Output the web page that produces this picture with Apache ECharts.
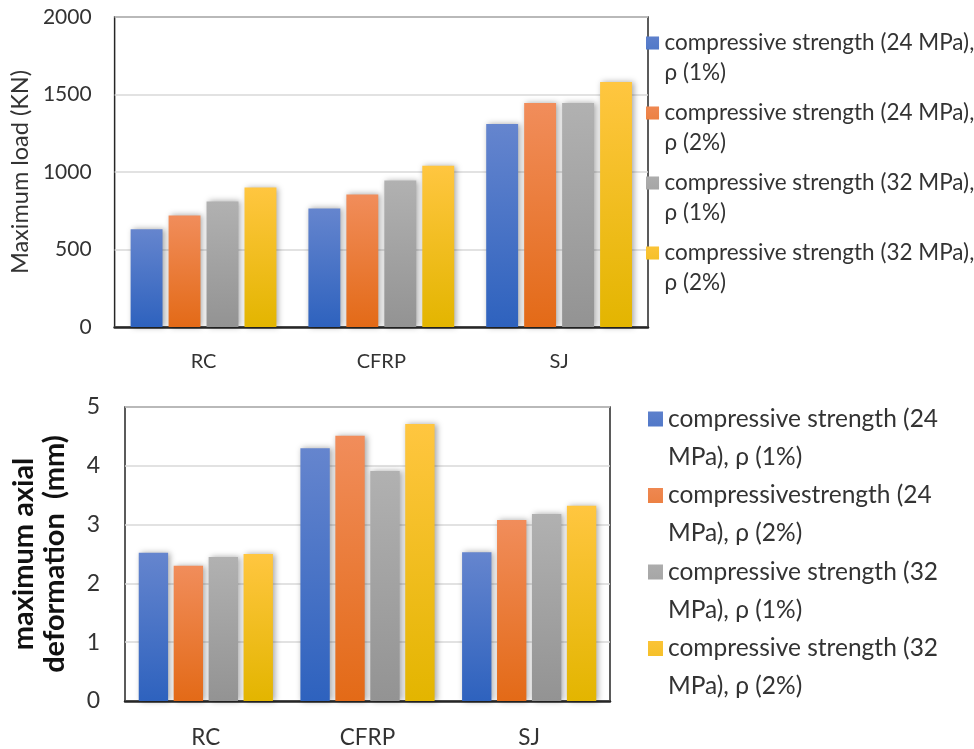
<!DOCTYPE html>
<html>
<head>
<meta charset="utf-8">
<script src="https://cdn.jsdelivr.net/npm/echarts@6/dist/echarts.min.js"></script>
<style>
  html, body { margin: 0; padding: 0; background: #fff; }
  #chart { width: 974px; height: 749px; }
</style>
</head>
<body>
<div id="chart"></div>
<script>
// Specimen groups on the category axis
const categories = ['RC', 'CFRP', 'SJ'];

// Maximum load (kN) per mix
const load24p1 = [630, 765, 1310];
const load24p2 = [720, 855, 1445];
const load32p1 = [810, 945, 1445];
const load32p2 = [900, 1040, 1580];

// Maximum axial deformation (mm) per mix
const def24p1 = [2.52, 4.30, 2.53];
const def24p2 = [2.30, 4.51, 3.08];
const def32p1 = [2.45, 3.91, 3.18];
const def32p2 = [2.50, 4.71, 3.32];

// Legend labels
const loadNames = [
  'compressive strength (24 MPa),\nρ (1%)',
  'compressive strength (24 MPa),\nρ (2%)',
  'compressive strength (32 MPa),\nρ (1%)',
  'compressive strength (32 MPa),\nρ (2%)'
];
const defNames = [
  'compressive strength (24\nMPa), ρ (1%)',
  'compressivestrength (24\nMPa), ρ (2%)',
  'compressive strength (32\nMPa), ρ (1%)',
  'compressive strength (32\nMPa), ρ (2%)'
];

// Axis ticks
const loadTicks = { min: 0, max: 2000, interval: 500 };
const defTicks = { min: 0, max: 5, interval: 1 };

const FONT = 'Lato';

function grad(top, bottom) {
  return new echarts.graphic.LinearGradient(0, 0, 0, 1, [
    { offset: 0, color: top },
    { offset: 1, color: bottom }
  ]);
}
const palette = [
  ['#6585CE', '#2E62BE'],
  ['#F18D5B', '#E36A17'],
  ['#B1B1B1', '#939393'],
  ['#FFC640', '#E3B500']
];

// swatch square placed beside the first line of a two-line legend label
const topIcon = 'path://M0,0 M0,6.5H10V16.5H0Z M10,46';
const botIcon = 'path://M0,0 M0,7.7H10V17.7H0Z M10,50.7';

function barSeries(name, data, idx, axisIdx) {
  return {
    type: 'bar',
    name: name,
    data: data,
    xAxisIndex: axisIdx,
    yAxisIndex: axisIdx,
    barGap: '19%',
    barCategoryGap: axisIdx === 0 ? '18%' : '17%',
    itemStyle: {
      color: grad(palette[idx][0], palette[idx][1]),
      shadowBlur: 6,
      shadowColor: 'rgba(0,0,0,0.35)',
      shadowOffsetX: 2
    }
  };
}

const chart = echarts.init(document.getElementById('chart'), null, { renderer: 'canvas' });

chart.setOption({
  animation: false,
  textStyle: { fontFamily: FONT },
  grid: [
    { left: 113, top: 17, width: 535, height: 310, show: true, borderColor: '#262626', borderWidth: 1.5, backgroundColor: 'transparent' },
    { left: 122, top: 407, width: 488, height: 294, show: true, borderColor: '#262626', borderWidth: 1.5, backgroundColor: 'transparent' }
  ],
  legend: [
    {
      data: loadNames,
      orient: 'vertical',
      left: 641,
      top: 23,
      itemWidth: 14,
      itemHeight: 60,
      itemGap: 10,
      icon: topIcon,
      textStyle: { fontFamily: FONT, fontSize: 22.5, color: '#333', lineHeight: 30 }
    },
    {
      data: defNames,
      orient: 'vertical',
      left: 643,
      top: 395,
      itemWidth: 15,
      itemHeight: 76,
      itemGap: 0.5,
      icon: botIcon,
      textStyle: { fontFamily: FONT, fontSize: 24.5, color: '#333', lineHeight: 38 }
    }
  ],
  xAxis: [
    {
      type: 'category', gridIndex: 0, data: categories,
      axisLine: { lineStyle: { color: '#262626', width: 2.5 } },
      axisTick: { show: false },
      axisLabel: { color: '#333', fontSize: 20, margin: 25, fontFamily: FONT }
    },
    {
      type: 'category', gridIndex: 1, data: categories,
      axisLine: { lineStyle: { color: '#262626', width: 2.5 } },
      axisTick: { show: false },
      axisLabel: { color: '#333', fontSize: 22.5, margin: 25, fontFamily: FONT }
    }
  ],
  yAxis: [
    {
      type: 'value', gridIndex: 0,
      min: loadTicks.min, max: loadTicks.max, interval: loadTicks.interval,
      name: 'Maximum load (KN)', nameLocation: 'middle', nameGap: 77,
      nameTextStyle: { fontSize: 23.5, color: '#333', fontFamily: FONT },
      axisLine: { show: false }, axisTick: { show: false },
      axisLabel: { color: '#333', fontSize: 21, margin: 23, fontFamily: FONT, formatter: v => String(v) },
      splitLine: { lineStyle: { color: '#D9D9D9', width: 1.5 } }
    },
    {
      type: 'value', gridIndex: 1,
      min: defTicks.min, max: defTicks.max, interval: defTicks.interval,
      name: 'maximum axial\ndeformation  (mm)', nameLocation: 'middle', nameGap: 55,
      nameTextStyle: { fontSize: 29, color: '#111', fontWeight: 'bold', lineHeight: 31, fontFamily: FONT },
      axisLine: { show: false }, axisTick: { show: false },
      axisLabel: { color: '#333', fontSize: 23, margin: 25, fontFamily: FONT, formatter: v => String(v) },
      splitLine: { lineStyle: { color: '#D9D9D9', width: 1.5 } }
    }
  ],
  series: [
    barSeries(loadNames[0], load24p1, 0, 0),
    barSeries(loadNames[1], load24p2, 1, 0),
    barSeries(loadNames[2], load32p1, 2, 0),
    barSeries(loadNames[3], load32p2, 3, 0),
    barSeries(defNames[0], def24p1, 0, 1),
    barSeries(defNames[1], def24p2, 1, 1),
    barSeries(defNames[2], def32p1, 2, 1),
    barSeries(defNames[3], def32p2, 3, 1)
  ]
});
</script>
</body>
</html>
